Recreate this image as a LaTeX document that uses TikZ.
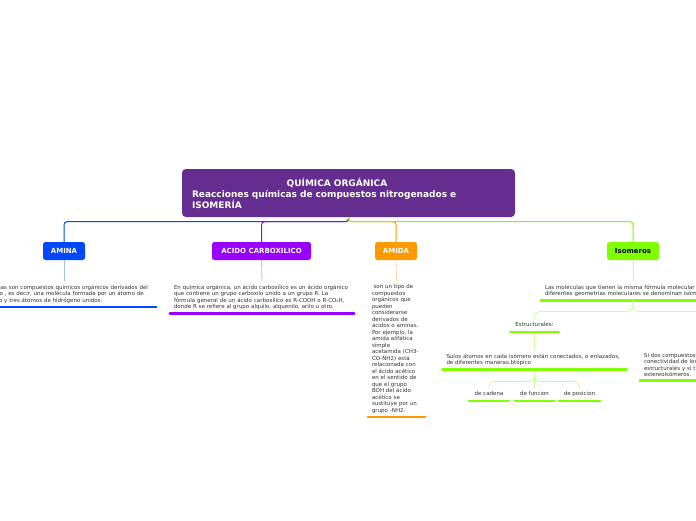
\documentclass[tikz,border=0pt]{standalone}
\usepackage{fontspec}
\setmainfont{DejaVu Sans}
\definecolor{rootc}{HTML}{662D91}
\definecolor{aminac}{HTML}{0047FF}
\definecolor{acidoc}{HTML}{9900FF}
\definecolor{amidac}{HTML}{FF9900}
\definecolor{isoc}{HTML}{80FF00}
\definecolor{textc}{HTML}{333333}
\tikzset{
  rootbox/.style={fill=rootc, rounded corners=4pt, minimum width=333pt, minimum height=48pt,
    text=white, font=\bfseries\fontsize{9}{11}\selectfont, align=left, text width=313pt, inner xsep=10pt},
  childbox/.style={rounded corners=2.5pt, minimum height=18pt, inner xsep=2pt,
    font=\bfseries\fontsize{7}{8}\selectfont, text=white},
  desc/.style={font=\fontsize{5.5}{6.5}\selectfont, align=left, inner xsep=4pt, inner ysep=3.5pt, text=textc, anchor=north},
  leaf/.style={desc, text height=4.2pt, text depth=1.3pt},
  ul/.style={line width=2.5pt, line cap=round},
  trunk/.style={line width=1pt, rounded corners=3pt},
  twig/.style={line width=0.8pt, rounded corners=5pt}
}
\begin{document}
\begin{tikzpicture}[x=1pt,y=-1pt]
\useasboundingbox (0,0) rectangle (696,520);
\clip (0,0) rectangle (696,520);
\fill[white] (0,0) rectangle (696,520);

% root
\node[rootbox] (root) at (348.5,193) {\makebox[290pt][c]{QUÍMICA ORGÁNICA}\\Reacciones químicas de compuestos nitrogenados e\\ISOMERÍA};

% children
\node[childbox, fill=aminac, minimum width=42pt] (amina) at (64,251) {AMINA};
\node[childbox, fill=acidoc, minimum width=99pt] (acido) at (261.5,251) {ACIDO CARBOXILICO};
\node[childbox, fill=amidac, minimum width=42pt] (amida) at (396,251) {AMIDA};
\node[childbox, fill=isoc, minimum width=52pt, text=black] (iso) at (633,251) {Isomeros};

% trunk connectors
\draw[trunk, aminac] (root.south) -- ++(0,4.5) -| (amina.north);
\draw[trunk, acidoc] (root.south) -- ++(0,4.5) -| (acido.north);
\draw[trunk, amidac] (root.south) -- ++(0,4.5) -| (amida.north);
\draw[trunk, isoc] (root.south) -- ++(0,4.5) -| (iso.north);

% descriptions
\node[desc, text width=176pt] (aminat) at (64,281) {Las aminas son compuestos químicos orgánicos derivados del\\amoníaco , es decir, una molécula formada por un átomo de\\nitrógeno y tres átomos de hidrógeno unidos.};
\node[desc, text width=176pt] (acidot) at (262,281) {En química orgánica, un ácido carboxílico es un ácido orgánico\\que contiene un grupo carboxilo unido a un grupo R. La\\fórmula general de un ácido carboxílico es R-COOH o R-CO₂H,\\donde R se refiere al grupo alquilo, alquenilo, arilo u otro.};
\node[desc, text width=49pt] (amidat) at (396.5,281) {\hspace*{1.6pt}son un tipo de\\compuestos\\orgánicos que\\pueden\\considerarse\\derivados de\\ácidos o aminas.\\Por ejemplo, la\\amida alifática\\simple\\acetamida (CH3-\\CO-NH2) está\\relacionada con\\el ácido acético\\en el sentido de\\que el grupo\\BOH del ácido\\acético se\\sustituye por un\\grupo -NH2.};
\node[desc, text width=176pt] (isot) at (633,281) {Las moléculas que tienen la misma fórmula molecular pero\\diferentes geometrías moleculares se denominan isómeros.};

\draw[line width=0.8pt, aminac!35] (amina.south) -- (aminat.north);
\draw[line width=0.8pt, acidoc!35] (acido.south) -- (acidot.north);
\draw[line width=0.8pt, amidac!40] (amida.south) -- (amidat.north);
\draw[line width=0.8pt, isoc!45] (iso.south) -- (isot.north);

\draw[ul, aminac] (aminat.south west) -- (aminat.south east);
\draw[ul, acidoc] (acidot.south west) -- (acidot.south east);
\draw[ul, amidac] (amidat.south west) -- (amidat.south east);
\draw[ul, isoc] (isot.south west) -- (isot.south east);

% isomeros subtree
\node[leaf, inner xsep=5pt] (estr) at (534.5,319) {Estructurales:};
\node[desc, text width=176pt] (sulos) at (534.5,350) {Sulos átomos en cada isómero están conectados, o enlazados,\\de diferentes maneras.btópico};
\node[desc, text width=176pt] (sidos) at (732,349) {Si dos compuestos tienen los mismos átomos y la misma\\conectividad de los enlaces no son isómeros\\estructurales y si tienen distinta geometría son\\estereoisómeros.};
\node[leaf, minimum width=40pt] (cadena) at (489,388) {de cadena};
\node[leaf, minimum width=39pt] (funcion) at (534.5,388) {de funcion};
\node[leaf, minimum width=41pt] (posicion) at (579.5,388) {de posicion};

\draw[twig, isoc!40] (isot.south) -- ++(0,11) -| (estr.north);
\draw[twig, isoc!40] (isot.south) -- ++(0,11) -| (sidos.north);
\draw[twig, isoc!40] (estr.south) -- (sulos.north);
\draw[twig, isoc!40] (sulos.south) -- ++(0,12) -| (cadena.north);
\draw[twig, isoc!40] (sulos.south) -- ++(0,12) -| (posicion.north);
\draw[twig, isoc!40] (sulos.south) -- (funcion.north);

\draw[ul, isoc] (estr.south west) -- (estr.south east);
\draw[ul, isoc] (sulos.south west) -- (sulos.south east);
\draw[ul, isoc] (sidos.south west) -- (sidos.south east);
\draw[ul, isoc] (cadena.south west) -- (cadena.south east);
\draw[ul, isoc] (funcion.south west) -- (funcion.south east);
\draw[ul, isoc] (posicion.south west) -- (posicion.south east);
\end{tikzpicture}
\end{document}
